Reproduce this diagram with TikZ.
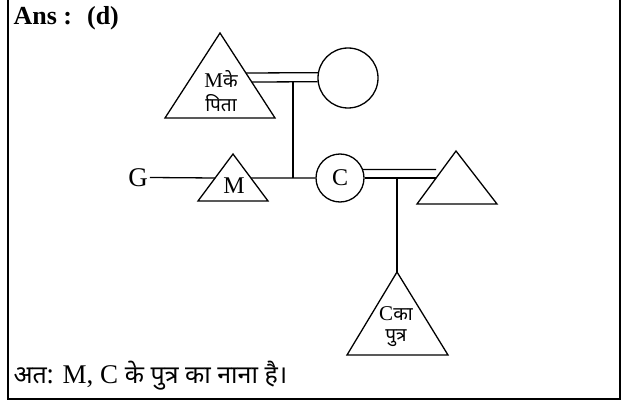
\documentclass[tikz,border=0pt]{standalone}
\usepackage{fontspec}
\setmainfont{Liberation Serif}
\newfontfamily\dev[Script=Devanagari]{Noto Sans}
\usetikzlibrary{calc}
\begin{document}
\begin{tikzpicture}[x=1pt,y=-1pt,line width=1.3pt,
  fig/.style={draw,line width=1.3pt},
  small/.style={inner sep=0pt,font=\fontsize{21}{24}\selectfont},
  big/.style={inner sep=0pt,font=\fontsize{27}{32}\selectfont},
  person/.style={circle,draw,line width=1.3pt,inner sep=0pt}]
\useasboundingbox (0,0) rectangle (621,401);
% frame
\draw[line width=2pt] (8.3,0) -- (8.3,399) -- (620,399) -- (620,0);
% header
\node[anchor=base west,inner sep=0pt,font=\bfseries\fontsize{26}{30}\selectfont] (ans) at (13,25) {Ans :\hspace{15pt}(d)};
% M's father (top triangle)
\coordinate (fA) at (220,33);
\coordinate (fL) at (165,118);
\coordinate (fR) at (275,118);
\draw[fig] (fA) -- (fL) -- (fR) -- cycle;
\node[small] (f1) at (221,79) {M{\dev\fontsize{19}{23}\selectfont के}};
\node[small] (f2) at (221,103) {\dev\fontsize{19}{23}\selectfont पिता};
% wife circle
\node[person,minimum size=60pt] (fw) at (348,78) {};
\coordinate (fu) at ($(fA)!0.4706!(fR)$);
\coordinate (fd) at ($(fA)!0.5765!(fR)$);
\draw (fu) -- (fw.170.4);
\draw (fd) -- (fw.187.7);
\coordinate (fv) at (293,82);
\coordinate (j1) at (293,178);
\draw (fv) -- (j1);
% G and M
\node[big,inner sep=1.5pt] (G) at (138,177.5) {G};
\coordinate (mA) at (233,154);
\coordinate (mL) at (198,201);
\coordinate (mR) at (268,201);
\draw[fig] (mA) -- (mL) -- (mR) -- cycle;
\node[inner sep=0pt,font=\fontsize{24}{28}\selectfont] (mtxt) at (234,186) {M};
\coordinate (mle) at ($(mA)!0.5106!(mL)$);
\coordinate (mre) at ($(mA)!0.5106!(mR)$);
\draw (G.east) -- (mle);
% C
\node[person,minimum size=48pt,font=\fontsize{24}{28}\selectfont] (C) at (340,178) {C};
\draw (mre) -- (C.west);
% C's husband
\coordinate (wA) at (456,151);
\coordinate (wL) at (417,204);
\coordinate (wR) at (497,204);
\draw[fig] (wA) -- (wL) -- (wR) -- cycle;
\coordinate (wu) at (436,169.5);
\coordinate (wd) at (436,178);
\draw (C.20.7) -- (wu);
\draw (C.east) -- (wd);
% son
\coordinate (sv) at (397,178);
\coordinate (cA) at (397,272);
\coordinate (cL) at (347,355);
\coordinate (cR) at (448,355);
\draw (sv) -- (cA);
\draw[fig] (cA) -- (cL) -- (cR) -- cycle;
\node[small] (s1) at (396,314) {C{\dev\fontsize{19}{23}\selectfont का}};
\node[small] (s2) at (396,338) {\dev\fontsize{19}{23}\selectfont पुत्र};
% conclusion
\node[anchor=base west,inner sep=0pt,font=\fontsize{27}{32}\selectfont] (concl) at (13,383) {{\dev\fontsize{25}{29}\selectfont अत:} M, C {\dev\fontsize{25}{29}\selectfont के पुत्र का नाना है।}};
\end{tikzpicture}
\end{document}
